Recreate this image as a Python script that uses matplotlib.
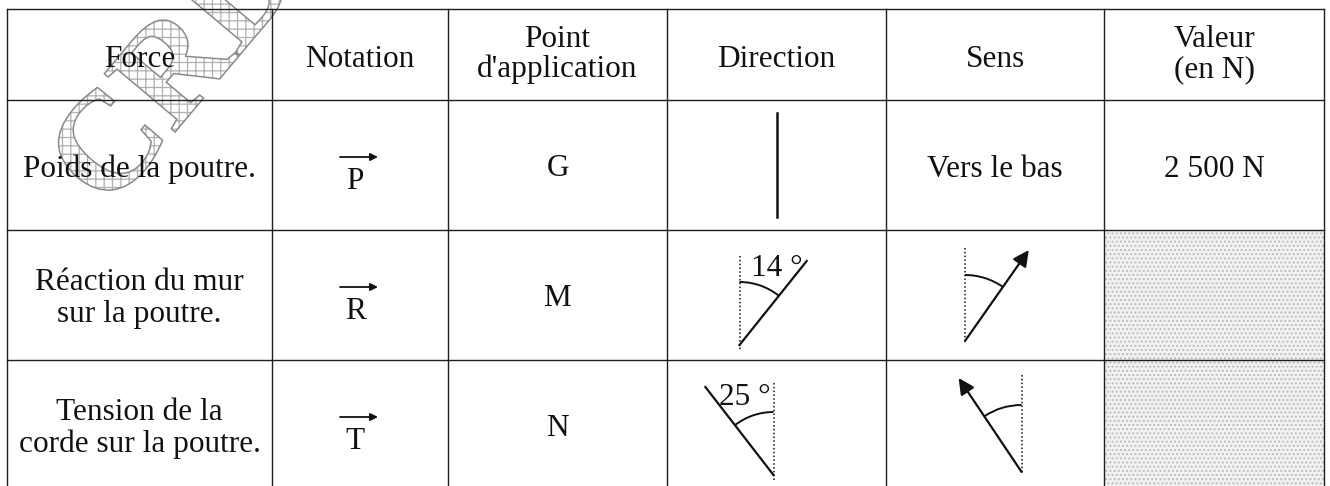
import numpy as np
import matplotlib
matplotlib.use("Agg")
import matplotlib.pyplot as plt
from matplotlib.patches import Arc, Rectangle, PathPatch
from matplotlib.textpath import TextPath
from matplotlib.font_manager import FontProperties
from matplotlib.transforms import Affine2D

# ---------------- data ----------------
headers = [["Force"], ["Notation"], ["Point", "d'application"], ["Direction"], ["Sens"], ["Valeur", "(en N)"]]
forces = [["Poids de la poutre."], ["Réaction du mur", "sur la poutre."], ["Tension de la", "corde sur la poutre."]]
notations = ["P", "R", "T"]
points = ["G", "M", "N"]
senses = ["Vers le bas", None, None]
values = ["2 500 N", None, None]
angles = [None, "14 °", "25 °"]

# ---------------- layout ----------------
W, H = 1330, 486
col_x = [7, 272, 448, 667, 886, 1104, 1324]
row_y = [9, 100, 230, 360, 492]
FS = 22.5
FONT = "Liberation Serif"
LINE = "#1e1e1e"

fig = plt.figure(figsize=(W / 100, H / 100), dpi=100)
ax = fig.add_axes([0, 0, 1, 1])
ax.set_xlim(0, W)
ax.set_ylim(H, 0)
ax.axis("off")

# watermark
plt.rcParams["hatch.linewidth"] = 0.9
tp = TextPath((0, 0), "CRDP", size=140, prop=FontProperties(family=FONT, weight="bold"))
tr = Affine2D().scale(1, -1).rotate_deg(-50).translate(108, 212)
wpath = tr.transform_path(tp)
ax.add_patch(PathPatch(wpath, facecolor="none", edgecolor="#b0b0b0", hatch="++", lw=0, zorder=0))
ax.add_patch(PathPatch(wpath, facecolor="none", edgecolor="#8a8a8a", lw=1.1, zorder=0.5))

# shaded (to fill) cells
cx = [(col_x[i] + col_x[i + 1]) / 2 for i in range(6)]
ax.add_patch(Rectangle((col_x[5], row_y[2]), col_x[6] - col_x[5], row_y[4] - row_y[2],
                       facecolor="#f1f1f1", edgecolor="#b9b9b9", hatch="....", lw=0, zorder=0.2))

# grid
for x in col_x:
    ax.plot([x, x], [row_y[0], H + 5], color=LINE, lw=1.0, zorder=2)
for y in row_y[:4]:
    ax.plot([col_x[0], col_x[-1]], [y, y], color=LINE, lw=1.0, zorder=2)

def txt(x, y, s, **kw):
    ax.text(x, y, s, ha="center", va="baseline", fontsize=FS, family=FONT, color="#111111", zorder=3, **kw)

# header
for i, lines in enumerate(headers):
    if len(lines) == 1:
        txt(cx[i], 67, lines[0])
    else:
        txt(cx[i], 47, lines[0])
        txt(cx[i], 77, lines[1])

row_c = [(row_y[i + 1] + row_y[i + 2]) / 2 for i in range(3)]
row_c[2] = 425
for r in range(3):
    c = row_c[r]
    lines = forces[r]
    if len(lines) == 1:
        txt(cx[0], c + 12, lines[0])
    else:
        txt(cx[0], c - 5, lines[0])
        txt(cx[0], c + 27, lines[1])
    # notation with vector arrow
    txt(cx[1] - 5, c + 24, notations[r])
    ax.annotate("", xy=(cx[1] + 18, c - 8), xytext=(cx[1] - 20, c - 8),
                arrowprops=dict(arrowstyle="-|>", lw=1.3, color="#111111", mutation_scale=11,
                                shrinkA=0, shrinkB=0), zorder=3)
    txt(cx[2], c + 11, points[r])
    if senses[r]:
        txt(cx[4], c + 12, senses[r])
    if values[r]:
        txt(cx[5], c + 12, values[r])

# direction row 1: vertical line
ax.plot([cx[3], cx[3]], [113, 217], color="#111111", lw=1.8, zorder=3)

def angle_sketch(xd, yd0, yd1, p0, p1, r, arrow=False):
    ax.plot([xd, xd], [yd0, yd1], color="#111111", lw=1.1, ls=(0, (1, 1.5)), zorder=3)
    if arrow:
        ax.annotate("", xy=p1, xytext=p0,
                    arrowprops=dict(arrowstyle="-|>", lw=1.6, color="#111111", mutation_scale=24,
                                    shrinkA=0, shrinkB=0), zorder=3)
    else:
        ax.plot([p0[0], p1[0]], [p0[1], p1[1]], color="#111111", lw=1.6, zorder=3)
    a = np.degrees(np.arctan2(p1[1] - p0[1], p1[0] - p0[0]))
    ax.add_patch(Arc(p0, 2 * r, 2 * r, theta1=min(a, -90), theta2=max(a, -90),
                     color="#111111", lw=1.4, zorder=3))

# row 2
angle_sketch(739.5, 256, 350, (739.5, 345), (806.7, 261), 63)
txt(777, 276, angles[1])
angle_sketch(965, 248, 341, (965, 341), (1028.8, 250), 66, arrow=True)
# row 3
angle_sketch(773.5, 383, 480, (773.5, 475), (705.4, 387), 63)
txt(745, 405, angles[2])
angle_sketch(1021.6, 375, 473, (1021.6, 472), (958.6, 378), 67, arrow=True)

fig.savefig("out.png", dpi=100)
